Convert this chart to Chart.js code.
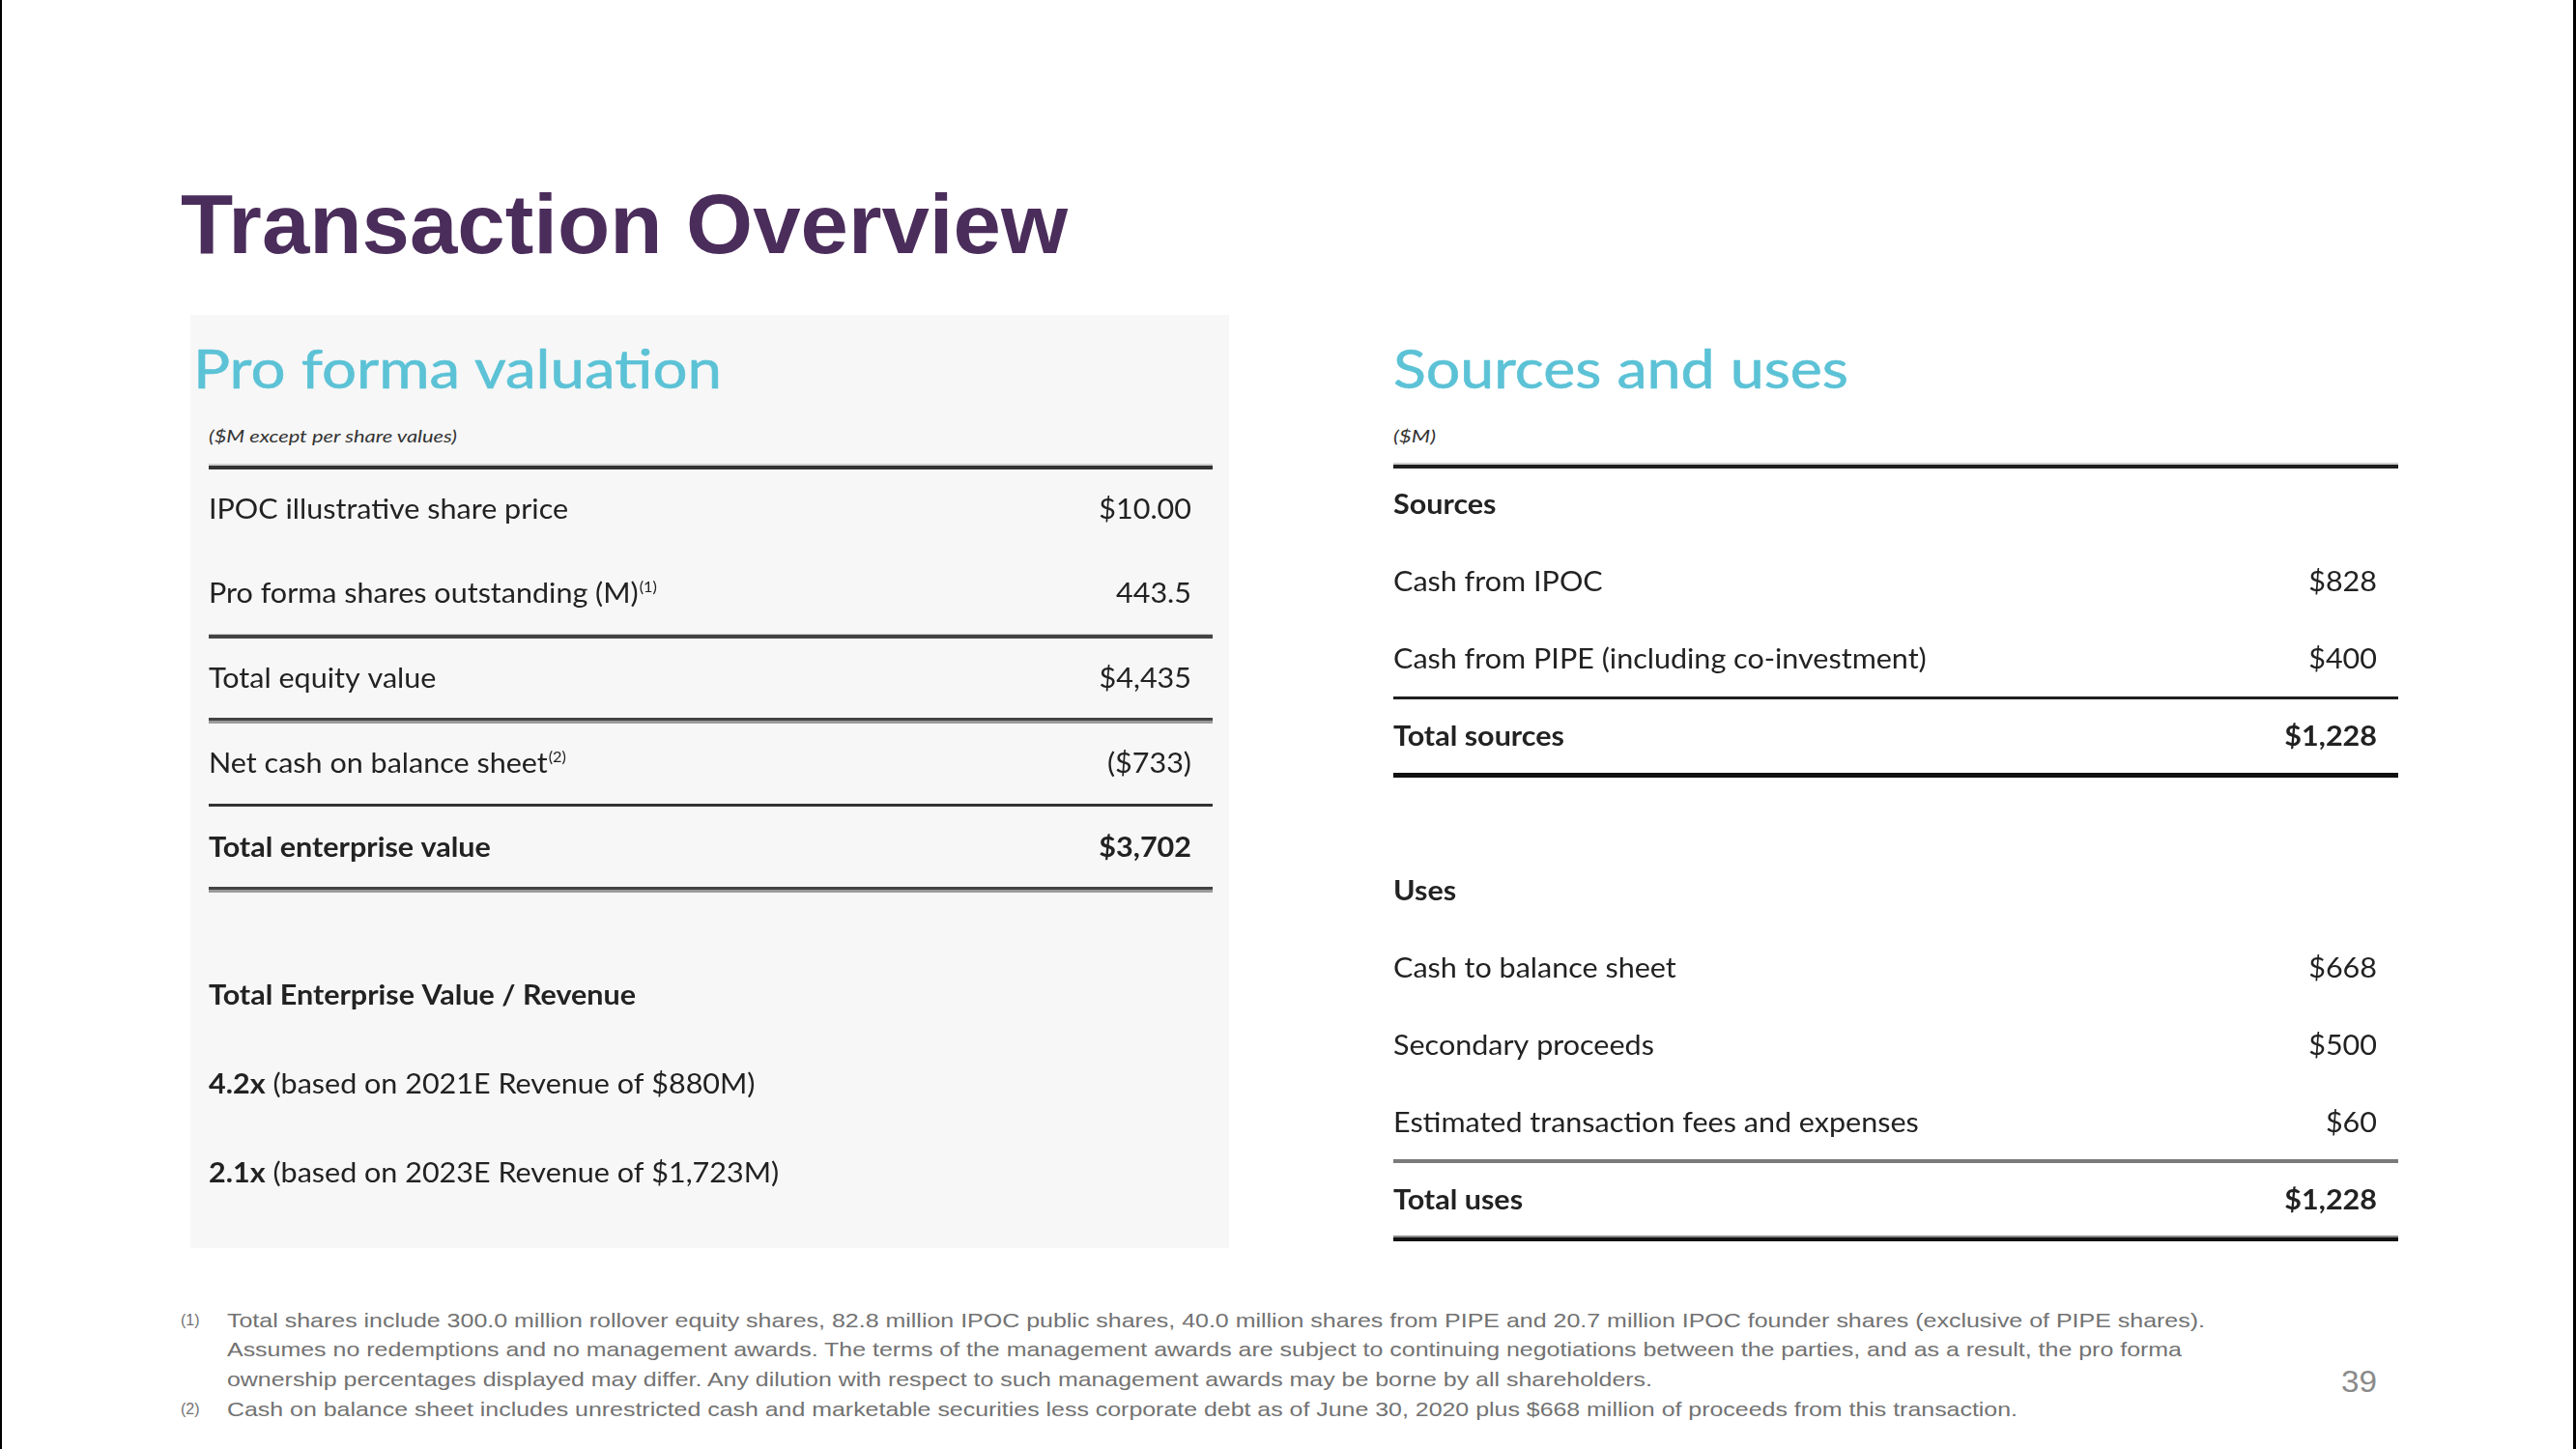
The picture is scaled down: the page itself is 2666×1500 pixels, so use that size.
<!DOCTYPE html>
<html>
<head>
<meta charset="utf-8">
<title>Transaction Overview</title>
<script src="https://cdn.jsdelivr.net/npm/chart.js@4.4.1/dist/chart.umd.min.js"></script>
<style>
html, body { margin: 0; padding: 0; background: #fff; }
body { width: 2666px; height: 1500px; position: relative; overflow: hidden; font-family: Lato, 'Open Sans', sans-serif; }
.edge-l { position: absolute; left: 0; top: 0; width: 2px; height: 1500px; background: #000; }
.edge-r { position: absolute; left: 2663px; top: 0; width: 3px; height: 1500px; background: #000; }
.fit { position: absolute; white-space: nowrap; transform-origin: left center; }
.title { left: 187px; top: 188px; font: bold 88px 'Liberation Sans', Arial, sans-serif; line-height: 88px; color: #4b2d5b; }
.panel { position: absolute; left: 197px; top: 326px; width: 1075px; height: 966px; background: #f7f7f7; }
.heading { font-family: Lato, sans-serif; font-size: 56px; line-height: 56px; color: #5cc2d6; -webkit-text-stroke: 0.6px #5cc2d6; }
.unit { font-family: Lato, sans-serif; font-style: italic; font-size: 18px; line-height: 20px; color: #333; }
.box { position: absolute; }
.note { font-family: 'Liberation Sans', Arial, sans-serif; font-size: 21px; line-height: 30px; color: #727272; }
.mk { font-size: 16px; }
.page { font-family: 'Liberation Sans', Arial, sans-serif; font-size: 32px; line-height: 36px; color: #8a8a8a; }
</style>
</head>
<body>
<div class="edge-l"></div>
<div class="edge-r"></div>

<div class="fit title" data-w="918">Transaction Overview</div>
<div class="panel"></div>

<div class="fit heading" style="left:200px; top:353px;" data-w="547">Pro forma valuation</div>
<div class="fit unit" style="left:216px; top:441px;" data-w="257">($M except per share values)</div>
<div class="box" style="left:216px; top:475px; width:1039px; height:454px;"><canvas id="valuationChart"></canvas></div>
<div class="box" style="left:216px; top:984px; width:1039px; height:276px;"><canvas id="multipleChart"></canvas></div>

<div class="fit heading" style="left:1442px; top:353px;" data-w="471">Sources and uses</div>
<div class="fit unit" style="left:1442px; top:441px;" data-w="44">($M)</div>
<div class="box" style="left:1442px; top:474px; width:1040px; height:816px;"><canvas id="sourcesChart"></canvas></div>

<div class="fit note mk" style="left:187px; top:1352px;">(1)</div>
<div class="fit note" style="left:235px; top:1352px;" data-w="2047">Total shares include 300.0 million rollover equity shares, 82.8 million IPOC public shares, 40.0 million shares from PIPE and 20.7 million IPOC founder shares (exclusive of PIPE shares).</div>
<div class="fit note" style="left:235px; top:1382px;" data-w="2023">Assumes no redemptions and no management awards. The terms of the management awards are subject to continuing negotiations between the parties, and as a result, the pro forma</div>
<div class="fit note" style="left:235px; top:1413px;" data-w="1475">ownership percentages displayed may differ. Any dilution with respect to such management awards may be borne by all shareholders.</div>
<div class="fit note mk" style="left:187px; top:1444px;">(2)</div>
<div class="fit note" style="left:235px; top:1444px;" data-w="1853">Cash on balance sheet includes unrestricted cash and marketable securities less corporate debt as of June 30, 2020 plus $668 million of proceeds from this transaction.</div>
<div class="fit page" style="left:2423px; top:1412px;" data-w="37">39</div>

<script>
// Pro forma valuation
const valuationLabels = ['IPOC illustrative share price', 'Pro forma shares outstanding (M)', 'Total equity value', 'Net cash on balance sheet', 'Total enterprise value'];
const valuationValues = [10.00, 443.5, 4435, -733, 3702];
const valuationFormats = ['usd2', 'num1', 'usd', 'usd', 'usd'];
const valuationNotes = ['', '(1)', '', '(2)', ''];
const valuationBold = [false, false, false, false, true];

// TEV / revenue multiples
const multipleHeader = 'Total Enterprise Value / Revenue';
const multipleYears = ['2021E', '2023E'];
const multipleValues = [4.2, 2.1];
const multipleRevenue = [880, 1723];

// Sources and uses ('' = spacer row)
const sourcesLabels = ['Sources', 'Cash from IPOC', 'Cash from PIPE (including co-investment)', 'Total sources', '', 'Uses', 'Cash to balance sheet', 'Secondary proceeds', 'Estimated transaction fees and expenses', 'Total uses'];
const sourcesValues = [null, 828, 400, 1228, null, null, 668, 500, 60, 1228];
const sourcesBold = [true, false, false, true, false, true, false, false, false, true];

const FONT = 'Lato, sans-serif';
const FS = 28;
const SX = 1.09; // slide text is a little wider than Lato

function fmtValue(v, kind) {
    if (v === null || v === undefined) return '';
    if (kind === 'num1') return v.toFixed(1);
    const dec = kind === 'usd2' ? 2 : 0;
    const s = '$' + Math.abs(v).toLocaleString('en-US', { minimumFractionDigits: dec, maximumFractionDigits: dec });
    return v < 0 ? '(' + s + ')' : s;
}

function drawWide(ctx, text, x, y) {
    ctx.save();
    ctx.translate(x, y);
    ctx.scale(SX, 1);
    ctx.fillText(text, 0, 0);
    ctx.restore();
    return ctx.measureText(text).width * SX;
}

const tablePlugin = {
    id: 'table',
    afterDatasetsDraw(chart, args, opts) {
        const ctx = chart.ctx;
        const yScale = chart.scales.y;
        const area = chart.chartArea;
        ctx.save();
        (opts.rules || []).forEach(rule => {
            const yy = yScale.getPixelForValue(rule.at - 0.5);
            const total = rule.bands.reduce((s, b) => s + b[1], 0);
            let top = Math.round(yy - total / 2);
            rule.bands.forEach(b => {
                ctx.fillStyle = b[0];
                ctx.fillRect(area.left, top, area.right - area.left, b[1]);
                top += b[1];
            });
        });
        ctx.fillStyle = '#222';
        ctx.textBaseline = 'alphabetic';
        opts.rows.forEach((segs, i) => {
            const base = yScale.getPixelForValue(i) + FS * 0.36;
            let x = area.left;
            ctx.textAlign = 'left';
            segs.forEach(s => {
                if (s.sup) {
                    ctx.font = '15px ' + FONT;
                    x += drawWide(ctx, s.t, x + 1, base - 11) + 1;
                    return;
                }
                ctx.font = (s.bold ? 'bold ' : '') + FS + 'px ' + FONT;
                x += drawWide(ctx, s.t, x, base);
            });
            const v = opts.valueText ? opts.valueText[i] : '';
            if (v) {
                ctx.font = (opts.bold && opts.bold[i] ? 'bold ' : '') + FS + 'px ' + FONT;
                ctx.textAlign = 'right';
                drawWide(ctx, v, area.right - 22, base);
            }
        });
        ctx.restore();
    }
};

function makeTable(id, labels, values, tableOpts) {
    return new Chart(document.getElementById(id), {
        type: 'bar',
        data: {
            labels: labels,
            datasets: [{ data: values, backgroundColor: 'rgba(0,0,0,0)', borderWidth: 0 }]
        },
        options: {
            indexAxis: 'y',
            responsive: true,
            maintainAspectRatio: false,
            animation: false,
            events: [],
            layout: { padding: tableOpts.padding || 0 },
            scales: { x: { display: false }, y: { display: false } },
            plugins: { legend: { display: false }, tooltip: { enabled: false }, table: tableOpts }
        },
        plugins: [tablePlugin]
    });
}

makeTable('valuationChart', valuationLabels, valuationValues, {
    padding: { top: 8, bottom: 8 },
    rows: valuationLabels.map((l, i) => {
        const segs = [{ t: l, bold: valuationBold[i] }];
        if (valuationNotes[i]) segs.push({ t: valuationNotes[i], sup: true });
        return segs;
    }),
    valueText: valuationValues.map((v, i) => fmtValue(v, valuationFormats[i])),
    bold: valuationBold,
    rules: [
        { at: 0, bands: [['#cfcfcf', 2], ['#333', 4]] },
        { at: 2, bands: [['#cfcfcf', 1], ['#444', 4]] },
        { at: 3, bands: [['#444', 3], ['#9a9a9a', 3]] },
        { at: 4, bands: [['#333', 3]] },
        { at: 5, bands: [['#444', 3], ['#9a9a9a', 3]] }
    ]
});

makeTable('multipleChart', [multipleHeader].concat(multipleYears), [null].concat(multipleValues), {
    rows: [[{ t: multipleHeader, bold: true }]].concat(multipleYears.map((y, i) => [
        { t: multipleValues[i].toFixed(1) + 'x', bold: true },
        { t: ' (based on ' + y + ' Revenue of $' + multipleRevenue[i].toLocaleString('en-US') + 'M)' }
    ]))
});

makeTable('sourcesChart', sourcesLabels, sourcesValues, {
    padding: { top: 8, bottom: 8 },
    rows: sourcesLabels.map((l, i) => (l ? [{ t: l, bold: sourcesBold[i] }] : [])),
    valueText: sourcesValues.map(v => fmtValue(v, 'usd')),
    bold: sourcesBold,
    rules: [
        { at: 0, bands: [['#d0d0d0', 2], ['#1f1f1f', 4]] },
        { at: 3, bands: [['#1f1f1f', 3]] },
        { at: 4, bands: [['#111', 5]] },
        { at: 9, bands: [['#7a7a7a', 4]] },
        { at: 10, bands: [['#8a8a8a', 2], ['#111', 4]] }
    ]
});

function fitText() {
    document.querySelectorAll('[data-w]').forEach(el => {
        el.style.transform = '';
        const w = el.getBoundingClientRect().width;
        if (w > 0) el.style.transform = 'scaleX(' + (parseFloat(el.dataset.w) / w) + ')';
    });
}
fitText();
document.fonts.ready.then(fitText);
</script>
</body>
</html>
